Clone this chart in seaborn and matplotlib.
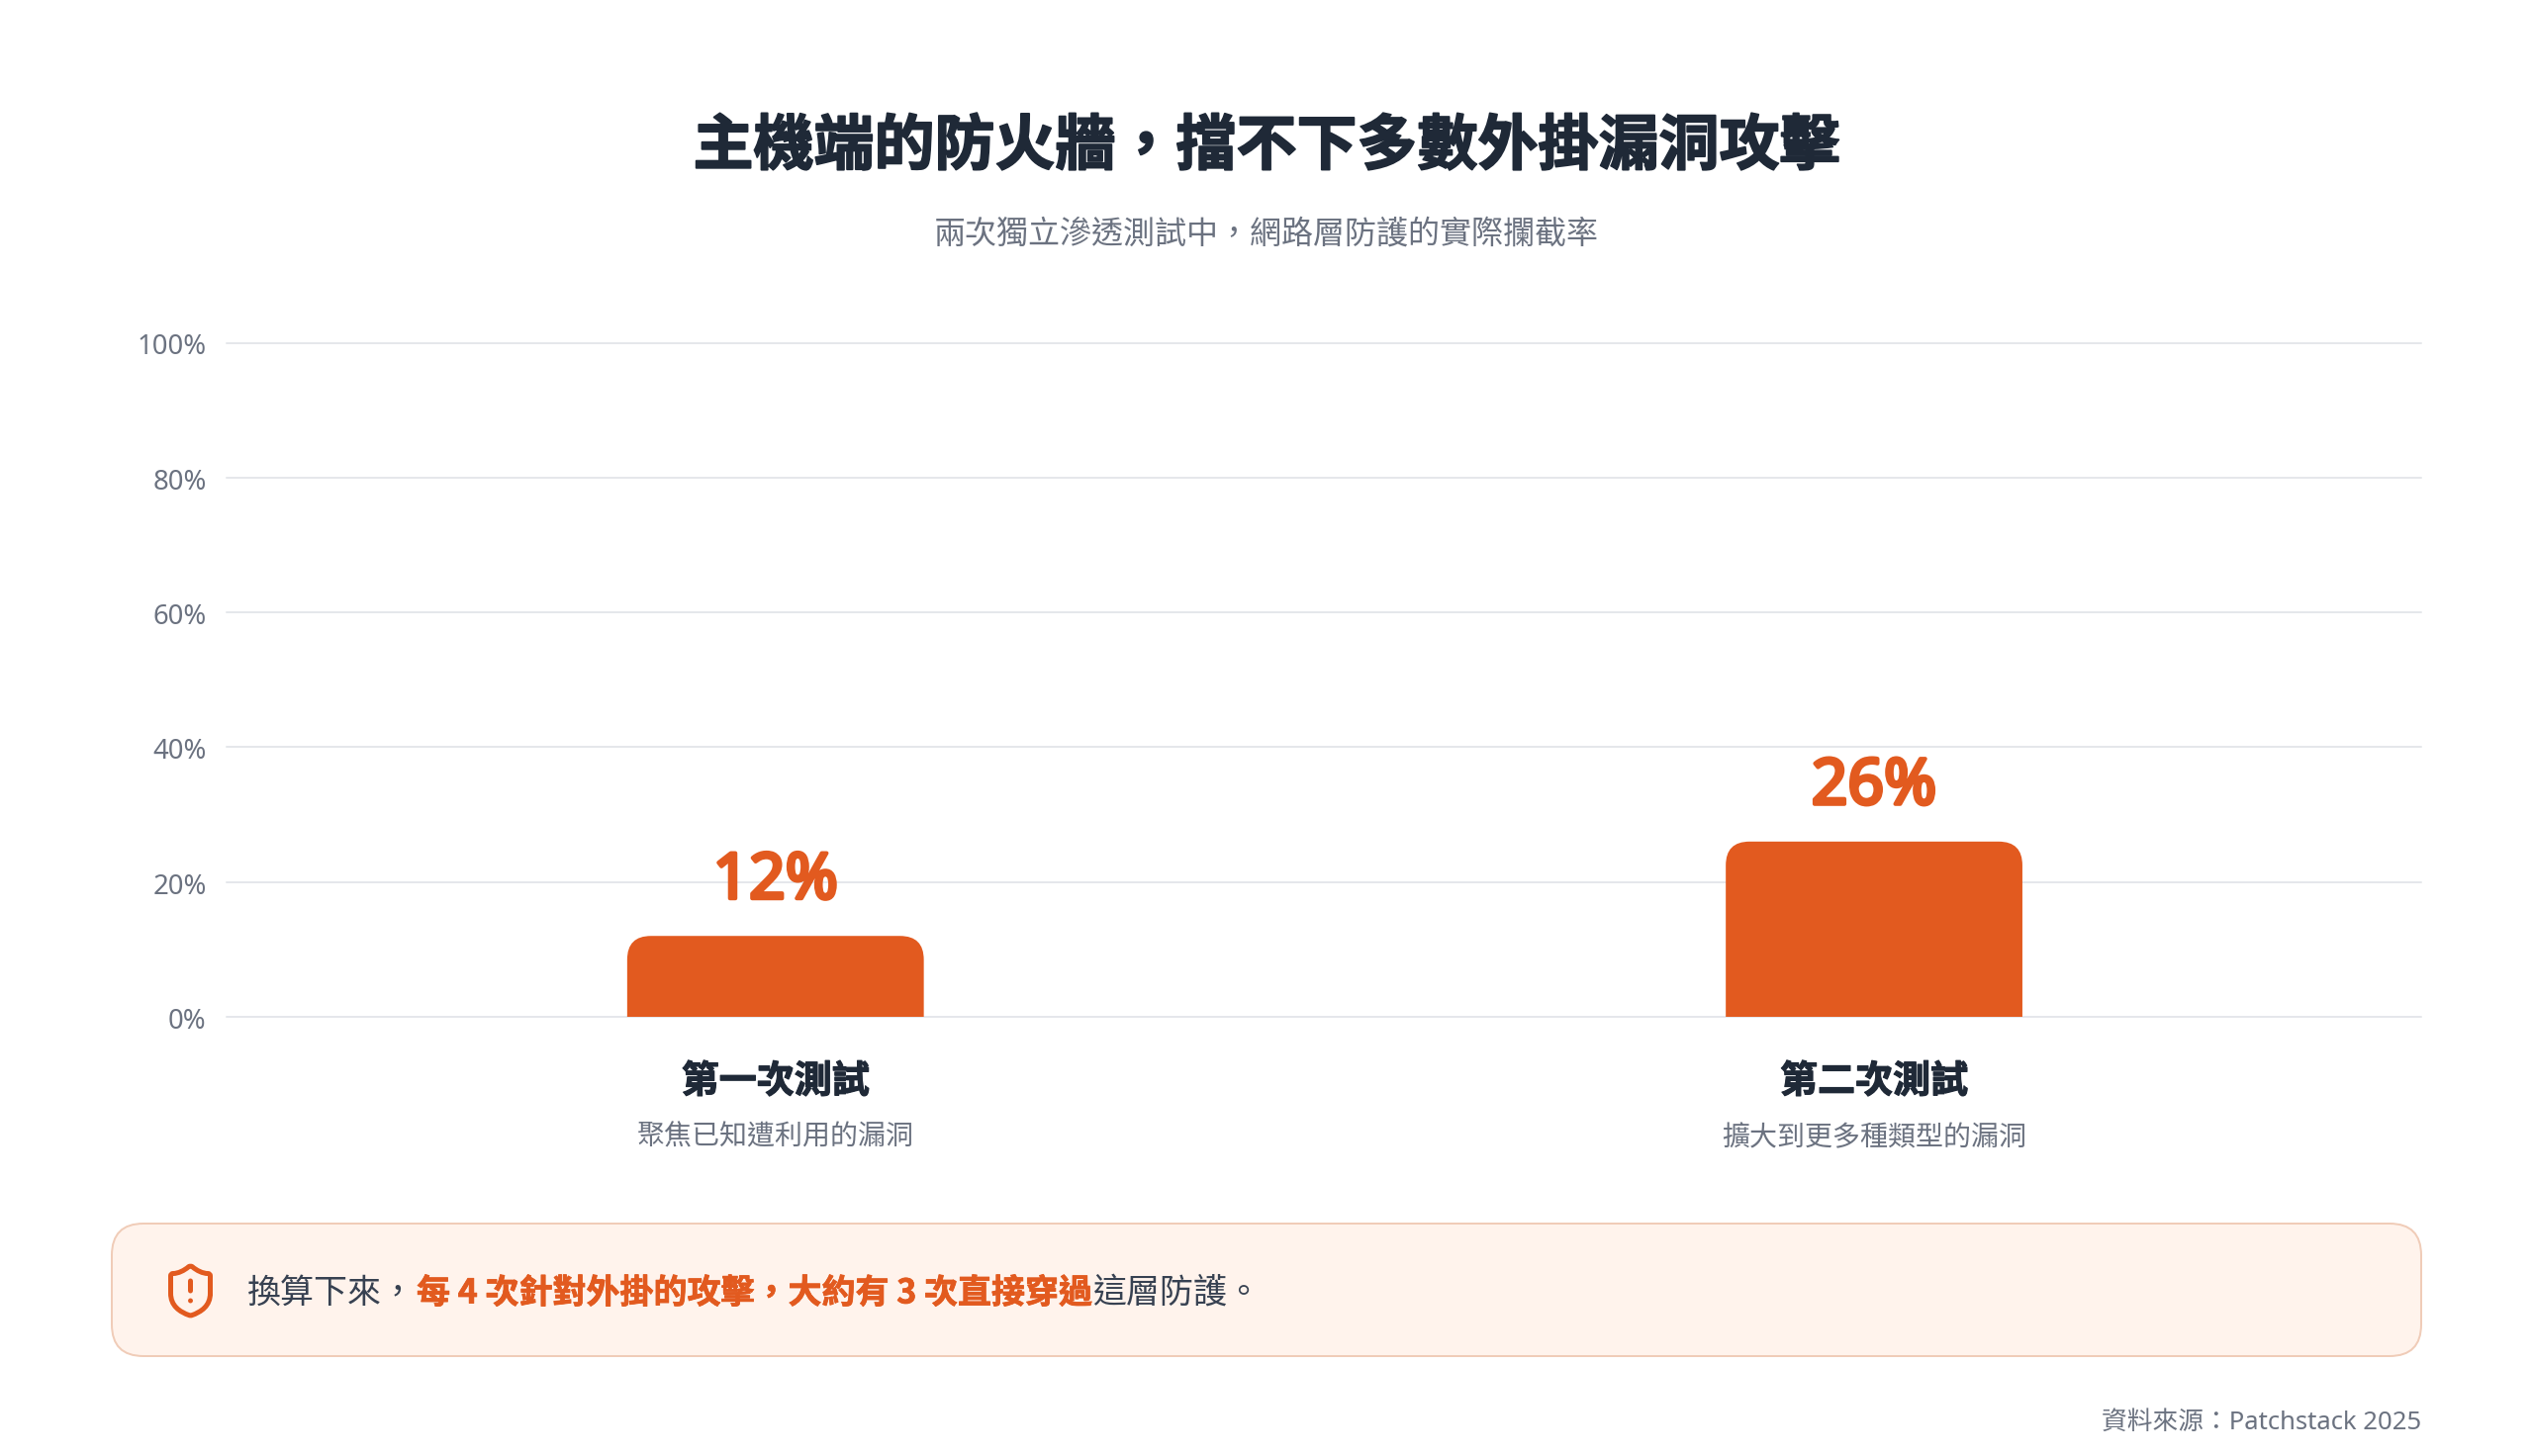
import pandas as pd
import seaborn as sns
import matplotlib.pyplot as plt
import matplotlib.patheffects as pe
from matplotlib.path import Path
from matplotlib.patches import PathPatch, FancyBboxPatch
from matplotlib.transforms import Affine2D, ScaledTranslation

# Data
tests = ['第一次測試', '第二次測試']
test_notes = ['聚焦已知遭利用的漏洞', '擴大到更多種類型的漏洞']
block_rates = [12, 26]
y_ticks = [0, 20, 40, 60, 80, 100]
y_labels = ['0%', '20%', '40%', '60%', '80%', '100%']

title = '主機端的防火牆，擋不下多數外掛漏洞攻擊'
subtitle = '兩次獨立滲透測試中，網路層防護的實際攔截率'
note_start = '換算下來，'
note_bold = '每 4 次針對外掛的攻擊，大約有 3 次直接穿過'
note_end = '這層防護。'
source = '資料來源：Patchstack 2025'

ORANGE = '#e25a1f'
DARK = '#1f2937'
GREY = '#6b7280'
W, H = 2560, 1472
DPI = 100
LATIN_FIRST = ['Noto Sans', 'Noto Sans CJK TC']


def pt(px):
    return px * 72 / DPI


def fy(px):
    return 1 - px / H


def heavy(px, color):
    # the reference text is heavier than the bold face, so thicken it a little
    return [pe.withStroke(linewidth=pt(px), foreground=color)]


sns.set_theme(style='white')
plt.rcParams['font.family'] = ['Noto Sans CJK TC', 'DejaVu Sans']

fig = plt.figure(figsize=(W / DPI, H / DPI), dpi=DPI, facecolor='white')
ax = fig.add_axes([228.6 / W, fy(1028), (2447 - 228.6) / W, (1028 - 346.5) / H])

df = pd.DataFrame({'test': tests, 'rate': block_rates})
sns.barplot(data=df, x='test', y='rate', color=ORANGE, saturation=1, width=0.27, ax=ax, zorder=3)

ax.set_ylim(0, 100)
ax.set_xlim(-0.5, 1.498)
ax.set_yticks(y_ticks)
ax.set_yticklabels(y_labels, fontsize=pt(27.5), color=GREY, family='Noto Sans', va='center_baseline')
ax.set_xticks([])
ax.set_xlabel('')
ax.set_ylabel('')
ax.tick_params(axis='y', length=0, pad=pt(20))
ax.grid(axis='y', color='#e5e7eb', linewidth=pt(2))
ax.set_axisbelow(True)
for line in ax.get_ygridlines():
    line.set_clip_on(False)
# tick labels sit a touch below their gridlines
label_shift = ScaledTranslation(0, -1.5 / DPI, fig.dpi_scale_trans)
for label in ax.get_yticklabels():
    label.set_transform(label.get_transform() + label_shift)
sns.despine(ax=ax, left=True, bottom=True)

# round the top corners of the bars
to_px = ax.transData.transform
x_scale = to_px((1, 0))[0] - to_px((0, 0))[0]
y_scale = to_px((0, 1))[1] - to_px((0, 0))[1]
rx, ry = 24 / x_scale, 24 / y_scale
for bar in list(ax.patches):
    x0, y0, w, h = bar.get_bbox().bounds
    x1, y1 = x0 + w, y0 + h
    verts = [(x0, y0), (x0, y1 - ry), (x0, y1), (x0 + rx, y1), (x1 - rx, y1),
             (x1, y1), (x1, y1 - ry), (x1, y0), (x0, y0)]
    codes = [Path.MOVETO, Path.LINETO, Path.CURVE3, Path.CURVE3, Path.LINETO,
             Path.CURVE3, Path.CURVE3, Path.LINETO, Path.CLOSEPOLY]
    ax.add_patch(PathPatch(Path(verts, codes), facecolor=ORANGE, edgecolor='none', zorder=3))
    bar.set_visible(False)

# value and category labels
for i, v in enumerate(block_rates):
    ax.annotate(f'{v}%', (i, v), xytext=(0, pt(55)), textcoords='offset points', family='Noto Sans',
                ha='center', va='center', fontsize=pt(64), fontweight='bold', color=ORANGE,
                path_effects=heavy(4, ORANGE))
    ax.annotate(tests[i], (i, 0), xytext=(0, -pt(65)), textcoords='offset points',
                ha='center', va='center', fontsize=pt(38), fontweight='bold', color=DARK,
                path_effects=heavy(1.2, DARK))
    ax.annotate(test_notes[i], (i, 0), xytext=(0, -pt(122)), textcoords='offset points',
                ha='center', va='center', fontsize=pt(28), color=GREY)

fig.text(0.5, fy(148.5), title, ha='center', va='center', fontsize=pt(61), fontweight='black', color=DARK,
         path_effects=heavy(1.8, DARK))
fig.text(0.5, fy(236.5), subtitle, ha='center', va='center', fontsize=pt(32), fontweight='medium', color=GREY)

# callout box
box = FancyBboxPatch((113 + 32, 1237 + 32), 2447 - 113 - 64, 1371 - 1237 - 64,
                     boxstyle='round,pad=32,rounding_size=32', linewidth=pt(2),
                     edgecolor='#f0ccb8', facecolor='#fff3ec',
                     transform=Affine2D().scale(1, -1).translate(0, H))
fig.add_artist(box)

# shield icon, 24 unit grid scaled up
shield_verts = [(20, 13), (20, 18), (16.5, 20.5), (12.34, 21.95), (11.67, 21.94), (7.5, 20.5), (4, 18),
                (4, 13), (4, 6), (4, 5), (5, 5), (7, 5), (9.5, 3.8), (11.24, 2.28), (12, 1.75), (12.76, 2.28),
                (14.51, 3.81), (17, 5), (19, 5), (20, 5), (20, 6), (20, 13),
                (12, 8), (12, 12), (12, 16), (12.01, 16)]
shield_codes = [Path.MOVETO, Path.CURVE4, Path.CURVE4, Path.CURVE4, Path.LINETO, Path.CURVE4, Path.CURVE4,
                Path.CURVE4, Path.LINETO, Path.CURVE3, Path.CURVE3, Path.CURVE4, Path.CURVE4, Path.CURVE4,
                Path.CURVE3, Path.CURVE3, Path.CURVE4, Path.CURVE4, Path.CURVE4, Path.CURVE3, Path.CURVE3,
                Path.LINETO, Path.MOVETO, Path.LINETO, Path.MOVETO, Path.LINETO]
icon_tf = Affine2D().translate(-12, -12).scale(2.5, -2.5).translate(192.5, H - 1305)
fig.add_artist(PathPatch(Path(shield_verts, shield_codes), facecolor='none', edgecolor=ORANGE,
                         linewidth=pt(5), capstyle='round', joinstyle='round', transform=icon_tf))

fig.text(250 / W, fy(1307), note_start, ha='left', va='center', fontsize=pt(34), color='#374151')
fig.text(421 / W, fy(1307), note_bold, ha='left', va='center', fontsize=pt(34), fontweight='black', color=ORANGE,
         path_effects=heavy(0.8, ORANGE))
fig.text(1104 / W, fy(1307), note_end, ha='left', va='center', fontsize=pt(34), color='#374151')

fig.text(2447 / W, fy(1438.5), source, ha='right', va='center', fontsize=pt(25.7), color=GREY, family=LATIN_FIRST)

fig.savefig('out.png', dpi=DPI)
